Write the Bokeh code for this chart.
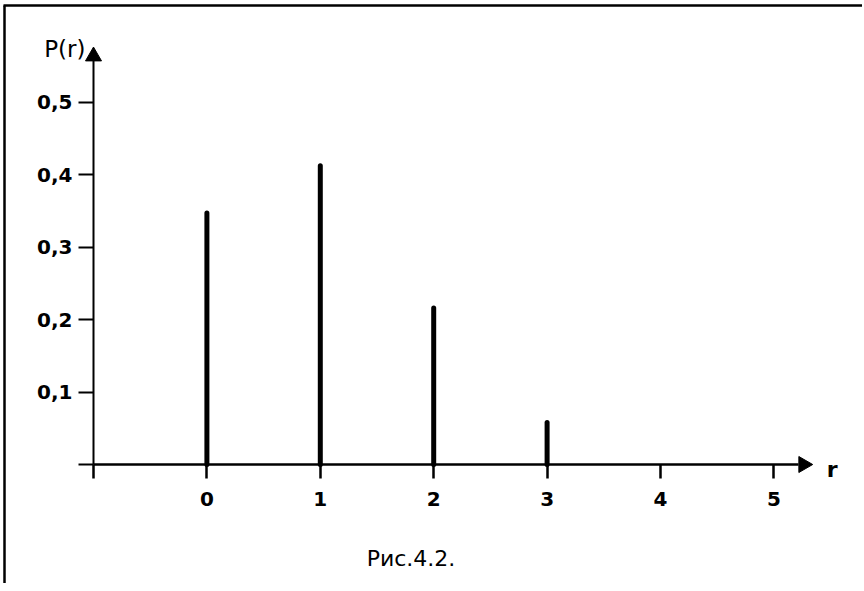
from math import pi
from bokeh.plotting import figure
from bokeh.models import Range1d, FixedTicker, Label, ColumnDataSource
from bokeh.embed import file_html
from bokeh.resources import INLINE

# ---- data ----
r_values = [0, 1, 2, 3]
p_values = [0.347, 0.412, 0.216, 0.058]
x_ticks = [-1, 0, 1, 2, 3, 4, 5]
x_tick_labels = ["", "0", "1", "2", "3", "4", "5"]
y_ticks = [0.0, 0.1, 0.2, 0.3, 0.4, 0.5]
y_tick_labels = ["", "0,1", "0,2", "0,3", "0,4", "0,5"]
x_axis_title = "r"
y_axis_title = "P(r)"
caption = "Рис.4.2."

# ---- layout ----
W, H = 862, 583
AXIS_X, AXIS_Y = 93, 464   # page pixel position of the axes
FRAME_X, FRAME_Y = 4, 5    # page pixel position of the page frame lines
PX_PER_R = 113.4
PX_PER_P = 725.0
R0 = -1.0                  # r value at the y-axis
X_AXIS_END, Y_AXIS_END = 5.22, 0.5567
ARROW = 16

x_start = R0 - AXIS_X / PX_PER_R
x_end = R0 + (W - AXIS_X) / PX_PER_R
y_start = -(H - AXIS_Y) / PX_PER_P
y_end = AXIS_Y / PX_PER_P

p = figure(width=W, height=H, output_backend="svg", toolbar_location=None,
           x_range=Range1d(x_start, x_end), y_range=Range1d(y_start, y_end),
           min_border=0, min_border_left=0, min_border_bottom=0,
           min_border_top=0, min_border_right=0,
           background_fill_color="white", border_fill_color="white")
p.outline_line_color = None
p.xgrid.grid_line_color = None
p.ygrid.grid_line_color = None

FONT = "DejaVu Sans"

# page frame (left and top lines)
fx = x_start + FRAME_X / PX_PER_R
fy = y_end - FRAME_Y / PX_PER_P
p.segment(x0=[fx, fx - 1 / PX_PER_R], y0=[y_start, fy], x1=[fx, x_end], y1=[fy, fy],
          line_width=2.5, line_color="black")

# x axis
xa = p.xaxis[0]
xa.fixed_location = 0
xa.ticker = FixedTicker(ticks=x_ticks)
xa.major_label_overrides = {t: l for t, l in zip(x_ticks, x_tick_labels)}
xa.bounds = (R0, X_AXIS_END)
xa.axis_line_width = 2.5
xa.axis_line_color = "black"
xa.major_tick_line_width = 2.5
xa.major_tick_out = 14
xa.major_tick_in = 0
xa.minor_tick_line_color = None
xa.major_label_text_font = FONT
xa.major_label_text_font_style = "bold"
xa.major_label_text_font_size = "20px"
xa.major_label_text_color = "black"
xa.major_label_standoff = 13

# y axis
ya = p.yaxis[0]
ya.fixed_location = R0
ya.ticker = FixedTicker(ticks=y_ticks)
ya.major_label_overrides = {t: l for t, l in zip(y_ticks, y_tick_labels)}
ya.bounds = (0, Y_AXIS_END)
ya.axis_line_width = 2
ya.axis_line_color = "black"
ya.major_tick_line_width = 2
ya.major_tick_out = 15
ya.major_tick_in = 0
ya.minor_tick_line_color = None
ya.major_label_text_font = FONT
ya.major_label_text_font_style = "bold"
ya.major_label_text_font_size = "20px"
ya.major_label_text_color = "black"
ya.major_label_standoff = 6

# arrow heads (triangle markers centred on their centroid)
h = ARROW * 0.866
p.scatter(x=[X_AXIS_END + (h / 3) / PX_PER_R, R0],
          y=[0, Y_AXIS_END + (h / 3) / PX_PER_P],
          marker="triangle", size=ARROW, angle=[-pi / 2, 0],
          fill_color="black", line_color="black", line_width=1)

# stems
src = ColumnDataSource(dict(r=r_values, p=p_values, z=[0] * len(r_values)))
p.segment(x0="r", y0="z", x1="r", y1="p", source=src,
          line_width=5, line_color="black", line_cap="round")

# titles
p.add_layout(Label(x=R0, y=0.573, x_offset=-8, text=y_axis_title,
                   text_align="right", text_baseline="alphabetic",
                   text_font=FONT, text_font_size="23px", text_color="black"))
p.add_layout(Label(x=5.467, y=0, y_offset=-5, text=x_axis_title,
                   text_align="left", text_baseline="alphabetic",
                   text_font=FONT, text_font_style="bold",
                   text_font_size="22px", text_color="black"))
p.add_layout(Label(x=1.8, y=-0.13, text=caption,
                   text_align="center", text_baseline="alphabetic",
                   text_font=FONT, text_font_size="22px", text_color="black"))

open("out.html", "w").write(file_html(p, INLINE))
